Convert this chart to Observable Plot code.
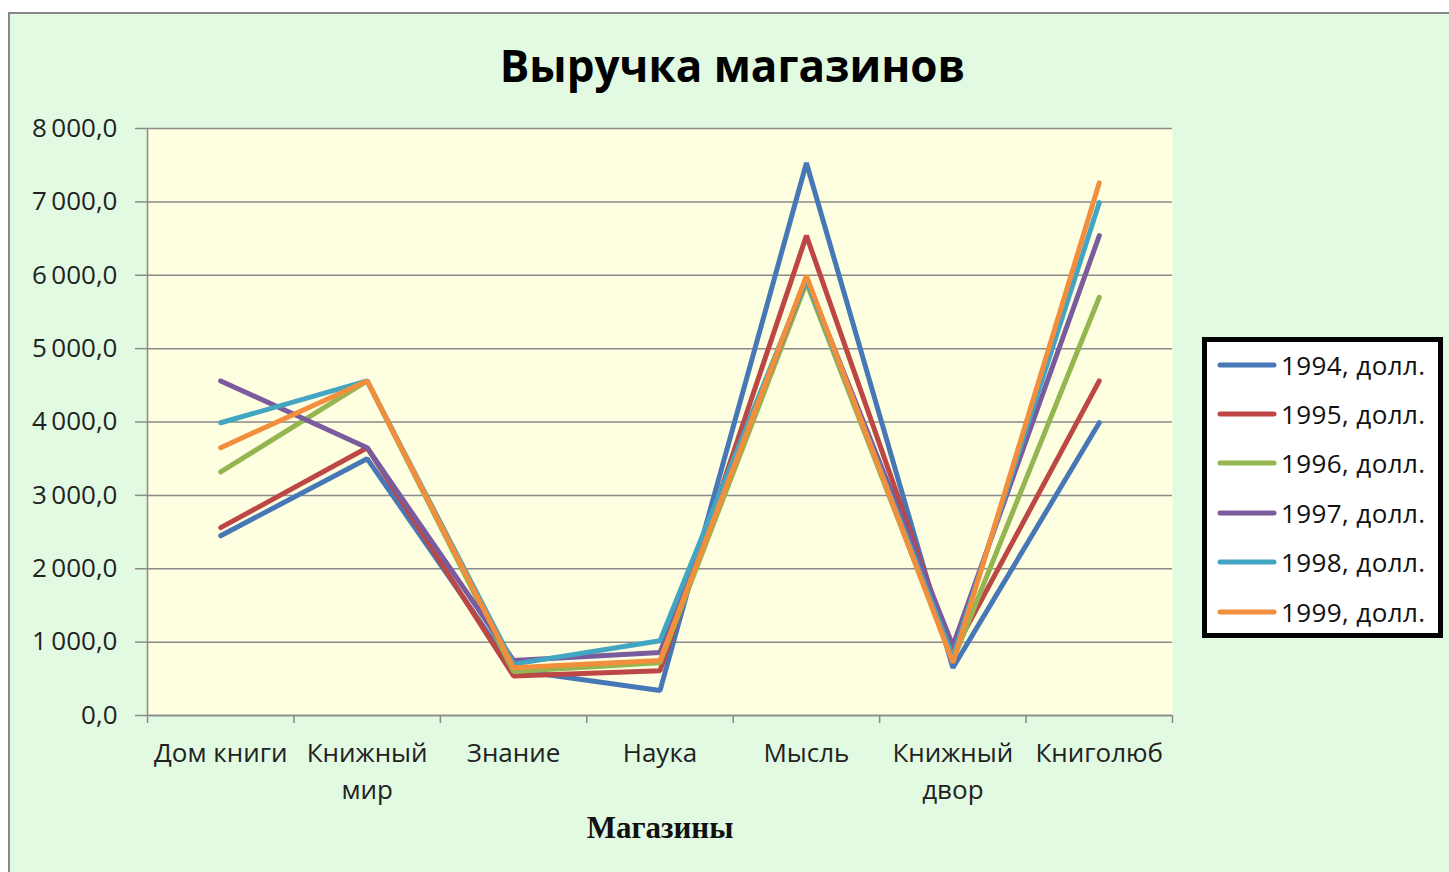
<!DOCTYPE html>
<html>
<head>
<meta charset="utf-8">
<script src="https://cdn.jsdelivr.net/npm/d3@7"></script>
<script src="https://cdn.jsdelivr.net/npm/@observablehq/plot@0.6"></script>
<style>
  body { margin: 0; background: #fff; width: 1449px; height: 872px; overflow: hidden; position: relative; font-family: "Open Sans", sans-serif; }
  #frame { position: absolute; left: 8px; top: 12px; width: 1460px; height: 880px; background: #e1fae1; border-left: 2px solid #888; border-top: 2px solid #888; }
  #chart { position: absolute; left: 0; top: 0; }
  #title { position: absolute; left: 8px; top: 35px; width: 1449px; text-align: center; font-family: "Open Sans", sans-serif; font-weight: bold; font-size: 44px; line-height: 60px; color: #000; }
  #legend { position: absolute; left: 1202px; top: 337px; width: 241px; height: 301px; box-sizing: border-box; border: 5px solid #000; background: #fff; }
  .item { display: flex; align-items: center; height: 49.4px; }
  .item svg { margin-left: 10px; margin-right: 4px; }
  .item span { font-size: 26px; letter-spacing: 0.4px; color: #111; white-space: nowrap; }
</style>
</head>
<body>
<div id="frame"></div>
<div id="chart"></div>
<div id="title"></div>
<div id="legend"></div>
<script>
const chartTitle = "Выручка магазинов";
const xTitle = "Магазины";
const stores = ["Дом книги", "Книжный мир", "Знание", "Наука", "Мысль", "Книжный двор", "Книголюб"];
const storeLabels = ["Дом книги", "Книжный\nмир", "Знание", "Наука", "Мысль", "Книжный\nдвор", "Книголюб"];
const years = ["1994, долл.", "1995, долл.", "1996, долл.", "1997, долл.", "1998, долл.", "1999, долл."];
const v1994 = [2450, 3500, 620, 340, 7530, 650, 3990];
const v1995 = [2560, 3650, 540, 610, 6540, 850, 4560];
const v1996 = [3320, 4560, 600, 720, 5900, 750, 5700];
const v1997 = [4560, 3650, 750, 860, 5950, 950, 6540];
const v1998 = [3990, 4560, 700, 1020, 5950, 800, 6990];
const v1999 = [3650, 4560, 650, 750, 5990, 720, 7260];
const series = [v1994, v1995, v1996, v1997, v1998, v1999];
const yTicks = [0, 1000, 2000, 3000, 4000, 5000, 6000, 7000, 8000];
const colors = ["#4677b6", "#bc4744", "#93b650", "#7a5c9e", "#42a6c2", "#f28e3c"];

const data = years.flatMap((yr, k) => series[k].map((v, i) => ({year: yr, i, store: stores[i], value: v})));
const idx = d3.range(stores.length);
const bounds = d3.range(stores.length + 1).map(i => i - 0.5);
const fmt = d => d3.format(",.1f")(d).replace(/,/g, "\u2009").replace(".", ",");

const chart = Plot.plot({
  width: 1449,
  height: 872,
  marginLeft: 147,
  marginRight: 277,
  marginTop: 128,
  marginBottom: 157,
  style: {background: "transparent", fontFamily: "'Open Sans', sans-serif", color: "#222"},
  x: {domain: [-0.5, stores.length - 0.5], axis: null},
  y: {domain: [0, 8000], axis: null},
  color: {domain: years, range: colors},
  marks: [
    Plot.frame({fill: "#fefee0", stroke: null}),
    Plot.gridY(yTicks, {stroke: "#8a8a8a", strokeOpacity: 1, strokeWidth: 1.5}),
    Plot.ruleX([-0.5], {stroke: "#8a8a8a", strokeWidth: 1.5}),
    Plot.ruleY([0], {stroke: "#8a8a8a", strokeWidth: 1.5}),
    Plot.axisY({ticks: yTicks, tickSize: 12, tickPadding: 18, tickFormat: fmt, fontSize: 26, stroke: "#8a8a8a", strokeWidth: 1.5, fill: "#222", label: null}),
    Plot.axisX({ticks: bounds, tickSize: 8, tickFormat: () => "", stroke: "#8a8a8a", strokeWidth: 1.5, label: null}),
    Plot.text(idx, {x: d => d, frameAnchor: "bottom", lineAnchor: "top", dy: 21, text: d => storeLabels[d], fontSize: 26, lineHeight: 1.4, fill: "#222", style: {letterSpacing: "0.4px"}}),
    Plot.text([xTitle], {frameAnchor: "bottom", lineAnchor: "middle", dy: 113, text: d => d, fontFamily: "'Liberation Serif', serif", fontWeight: "bold", fontSize: 31, fill: "#111"}),
    Plot.line(data, {x: "i", y: "value", z: "year", stroke: "year", strokeWidth: 5, strokeLinejoin: "miter", strokeLinecap: "round"})
  ]
});
document.getElementById("chart").appendChild(chart);
document.getElementById("title").textContent = chartTitle;

const legend = d3.select("#legend");
legend.append("div").style("height", "0px").style("margin-top", "-2px");
years.forEach((yr, k) => {
  const it = legend.append("div").attr("class", "item");
  const s = it.append("svg").attr("width", 60).attr("height", 8);
  s.append("line").attr("x1", 3).attr("x2", 57).attr("y1", 4).attr("y2", 4)
    .attr("stroke", colors[k]).attr("stroke-width", 5).attr("stroke-linecap", "round");
  it.append("span").text(yr);
});
</script>
</body>
</html>
